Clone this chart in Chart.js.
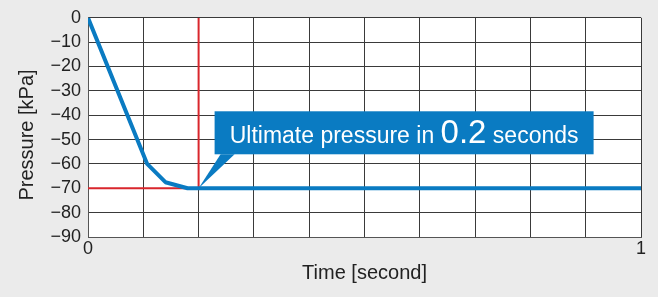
<!DOCTYPE html>
<html>
<head>
<meta charset="utf-8">
<script src="https://cdn.jsdelivr.net/npm/chart.js@4/dist/chart.umd.min.js"></script>
<style>
  html, body { margin: 0; padding: 0; background: #ebebeb; }
  #wrap { width: 658px; height: 297px; }
</style>
</head>
<body>
<div id="wrap"><canvas id="myChartPressure" width="658" height="297"></canvas></div>
<script>
// data
var timeValues = [0, 0.107, 0.14, 0.18, 1];
var pressureValues = [0, -60, -67.5, -70, -70];
var markTime = 0.2;
var markPressure = -70;
var yTicks = [0, -10, -20, -30, -40, -50, -60, -70, -80, -90];
var xTickLabels = { 0: '0', 1: '1' };

var fontFam = '"Liberation Sans", Arial, Helvetica, sans-serif';

var curve = [];
for (var i = 0; i < timeValues.length; i++) {
	curve.push({ x: timeValues[i], y: pressureValues[i] });
}
var markLine = [
	{ x: 0, y: markPressure },
	{ x: markTime, y: markPressure },
	{ x: markTime, y: 0 }
];

var extras = {
	id: 'extras',
	beforeDraw: function (chart) {
		var ctx = chart.ctx, a = chart.chartArea;
		ctx.save();
		ctx.fillStyle = '#ffffff';
		ctx.fillRect(a.left, a.top, a.right - a.left, a.bottom - a.top);
		ctx.restore();
	},
	afterDraw: function (chart) {
		var ctx = chart.ctx, a = chart.chartArea;
		var xs = chart.scales.x, ys = chart.scales.y;
		ctx.save();
		// axis titles
		ctx.fillStyle = '#222';
		ctx.font = '20px ' + fontFam;
		ctx.textAlign = 'center';
		ctx.textBaseline = 'middle';
		ctx.fillText('Time [second]', (a.left + a.right) / 2, 273);
		ctx.save();
		ctx.translate(27, 135);
		ctx.rotate(-Math.PI / 2);
		ctx.fillText('Pressure [kPa]', 0, 0);
		ctx.restore();

		// callout
		var px = xs.getPixelForValue(markTime);
		var py = ys.getPixelForValue(markPressure);
		var bx = px + 16, by = py - 77, bw = 379, bh = 43;
		ctx.fillStyle = '#0a7bc2';
		ctx.fillRect(bx, by, bw, bh);
		ctx.beginPath();
		ctx.moveTo(px, py);
		ctx.lineTo(bx + 6, by + bh);
		ctx.lineTo(bx + 20, by + bh);
		ctx.closePath();
		ctx.fill();

		ctx.fillStyle = '#ffffff';
		ctx.textAlign = 'left';
		ctx.textBaseline = 'alphabetic';
		var base = by + 32;
		var t1 = 'Ultimate pressure in ', t2 = '0.2', t3 = ' seconds';
		var f1 = '23px ' + fontFam, f2 = '33px ' + fontFam;
		ctx.font = f1; var w1 = ctx.measureText(t1).width, w3 = ctx.measureText(t3).width;
		ctx.font = f2; var w2 = ctx.measureText(t2).width;
		var tx = bx + (bw - (w1 + w2 + w3)) / 2;
		ctx.font = f1; ctx.fillText(t1, tx, base);
		ctx.font = f2; ctx.fillText(t2, tx + w1, base);
		ctx.font = f1; ctx.fillText(t3, tx + w1 + w2, base);
		ctx.restore();
	}
};

var myChartPressure = new Chart('myChartPressure', {
	type: 'scatter',
	data: {
		datasets: [{
			data: curve,
			showLine: true,
			borderColor: '#0a7bc2',
			borderWidth: 4,
			pointRadius: 0,
			borderJoinStyle: 'round',
			order: 1
		}, {
			data: markLine,
			showLine: true,
			borderColor: '#d9262c',
			borderWidth: 2,
			pointRadius: 0,
			order: 2
		}]
	},
	options: {
		responsive: false,
		animation: false,
		layout: { padding: { left: 0, right: 17, top: 17, bottom: 0 } },
		plugins: { legend: { display: false }, tooltip: { enabled: false } },
		scales: {
			x: {
				type: 'linear',
				min: 0, max: 1,
				ticks: {
					stepSize: 0.1,
					autoSkip: false,
					maxRotation: 0,
					color: '#222',
					font: { size: 18, family: fontFam },
					padding: 1,
					callback: function (v) {
						var k = Math.round(v * 10) / 10;
						return xTickLabels[k] !== undefined ? xTickLabels[k] : '';
					}
				},
				grid: { color: '#3a3a3a', lineWidth: 1, drawTicks: false },
				border: { color: '#555', width: 1 },
				afterFit: function (s) { s.height = 60; }
			},
			y: {
				min: -90, max: 0,
				afterBuildTicks: function (s) {
					s.ticks = yTicks.map(function (v) { return { value: v }; });
				},
				ticks: {
					autoSkip: false,
					color: '#222',
					font: { size: 18, family: fontFam },
					padding: 7,
					callback: function (v) { return v < 0 ? '\u2212' + Math.abs(v) : String(v); }
				},
				grid: { color: '#3a3a3a', lineWidth: 1, drawTicks: false },
				border: { color: '#555', width: 1 },
				afterFit: function (s) { s.width = 88; }
			}
		}
	},
	plugins: [extras]
});
</script>
</body>
</html>
